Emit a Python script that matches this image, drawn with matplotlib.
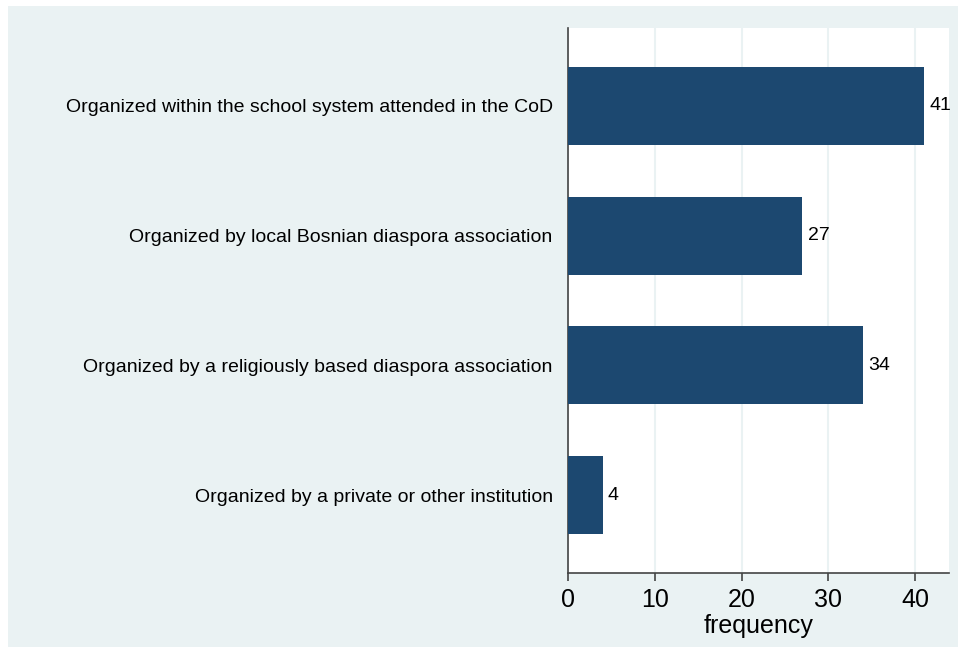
import matplotlib.pyplot as plt
from matplotlib.patches import Rectangle

categories = [
    "Organized within the school system attended in the CoD",
    "Organized by local Bosnian diaspora association",
    "Organized by a religiously based diaspora association",
    "Organized by a private or other institution",
]
counts = [41, 27, 34, 4]
xticks = [0, 10, 20, 30, 40]

bg = "#eaf2f3"
bar_color = "#1c4870"
axis_color = "#444444"

plt.rcParams['font.family'] = ['Liberation Sans', 'DejaVu Sans']

W, H = 958, 657
fig = plt.figure(figsize=(W / 100, H / 100), dpi=100)
fig.patch.set_facecolor("white")
# light outer panel like the Stata graph region
fig.patches.append(Rectangle((8 / W, 1 - 647 / H), (958 - 8) / W, (647 - 6) / H,
                             transform=fig.transFigure, facecolor=bg,
                             edgecolor="none", zorder=-10))

left, right, top, bottom = 568, 949, 28, 573
ax = fig.add_axes([left / W, 1 - bottom / H, (right - left) / W, (bottom - top) / H])
ax.set_facecolor("white")

ypos = list(range(len(categories)))
ax.barh(ypos, counts, height=0.6, color=bar_color, zorder=3)
for y, v in zip(ypos, counts):
    ax.text(v + 0.6, y, str(v), va="center", ha="left", fontsize=14, color="black")

ax.set_xlim(0, 43.9)
ax.set_ylim(len(categories) - 0.4, -0.6)
ax.set_yticks(ypos)
ax.set_yticklabels(categories, fontsize=14)
ax.tick_params(axis="y", length=0, pad=11)
ax.set_xticks(xticks)
ax.tick_params(axis="x", labelsize=18, length=6, width=1.2, color=axis_color, pad=5)
ax.set_xlabel("frequency", fontsize=18, labelpad=1)

ax.grid(axis="x", color=bg, linewidth=1.5, zorder=0)
for s in ["top", "right"]:
    ax.spines[s].set_visible(False)
for s in ["left", "bottom"]:
    ax.spines[s].set_color(axis_color)
    ax.spines[s].set_linewidth(1.2)

fig.savefig("out.png", dpi=100)
